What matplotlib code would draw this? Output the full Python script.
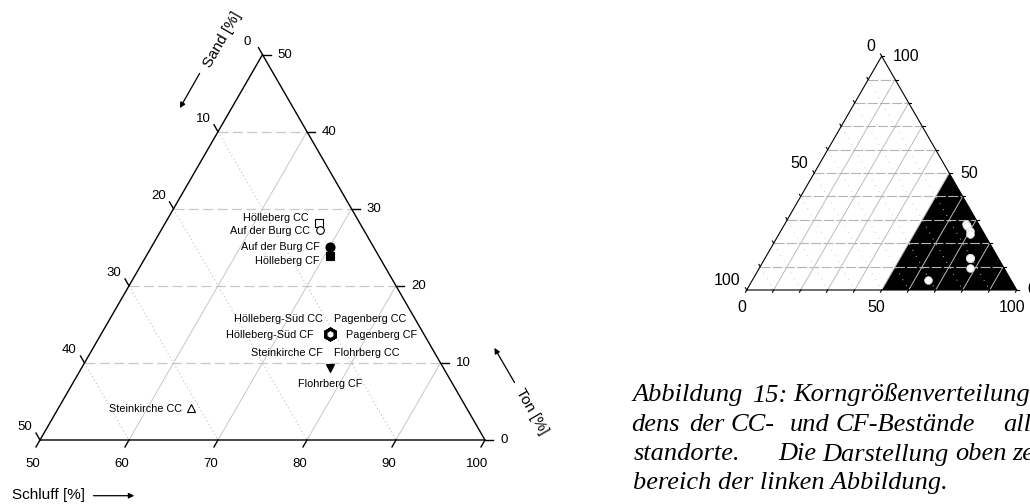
import numpy as np
import matplotlib
matplotlib.use('Agg')
import matplotlib.pyplot as plt
from matplotlib.patches import FancyArrowPatch

plt.rcParams['font.family'] = ['Liberation Sans', 'DejaVu Sans']

# ---------------- data ----------------
sites = ["Hölleberg CC", "Auf der Burg CC", "Auf der Burg CF", "Hölleberg CF",
         "Hölleberg-Süd CC", "Pagenberg CC", "Hölleberg-Süd CF", "Pagenberg CF",
         "Steinkirche CF", "Flohrberg CC", "Flohrberg CF", "Steinkirche CC"]
schluff = [67.3, 67.9, 70.0, 70.6, 75.7, 75.7, 75.7, 75.7, 75.7, 75.7, 77.9, 64.9]
ton = [28.2, 27.2, 25.1, 23.9, 13.7, 13.7, 13.7, 13.7, 13.7, 13.7, 9.3, 4.2]

markers = ['s', 'o', 'o', 's', 'h', 'h', 'h', 'h', 'h', 'h', 'v', '^']
filled = [False, False, True, True, False, False, False, False, False, False, True, False]
msizes = [5.5, 5.5, 6.5, 6.0, 7.5, 7.5, 7.5, 7.5, 7.5, 7.5, 6.0, 6.0]
medges = [0.8, 0.8, 0.8, 0.8, 2.3, 2.3, 2.3, 2.3, 2.3, 2.3, 0.8, 0.8]
# label offsets in pixels (dx, dy) and alignment
lab_off = [(-10.7, 4.4, 'right'), (-10.7, -1, 'right'), (-10, -0.7, 'right'),
           (-10, -5, 'right'), (-6.7, 15.7, 'right'), (4.3, 15.7, 'left'),
           (-15.7, -1, 'right'), (16, -1, 'left'), (-6.7, -18.3, 'right'),
           (4.3, -18.3, 'left'), (0, -15.3, 'center'), (-9, -1, 'right')]

zoom_ticks = [50, 60, 70, 80, 90, 100]       # Schluff ticks (left chart)
zoom_ticks_ton = [0, 10, 20, 30, 40, 50]     # Ton ticks
zoom_ticks_sand = [0, 10, 20, 30, 40, 50]    # Sand ticks
full_ticks = list(range(0, 101, 10))
full_labels = [0, 50, 100]

S3 = np.sqrt(3) / 2


def tern(S, T, base):
    span = 100.0 - base
    a = (np.asarray(S, float) - base) / span
    t = np.asarray(T, float) / span
    return a + t / 2, t * S3


fig = plt.figure(figsize=(10.3, 5.04), dpi=100)
H = 504

# ---------------- left (zoomed) triangle ----------------
ax1 = fig.add_axes([0, 0, 560 / 1030, 1])
ax1.set_xlim(-40 / 445, 520 / 445)
ax1.set_ylim(-64 / 445, 440 / 445)
ax1.axis('off')
B = 50
grid_c = '#c8c8c8'
for v in [10, 20, 30, 40]:
    x, y = tern([B, 100 - v], [v, v], B)
    ax1.plot(x, y, color=grid_c, lw=0.9, ls=(0, (8, 3.5)), zorder=1)
for v in [60, 70, 80, 90]:
    x, y = tern([v, v], [0, 100 - v], B)
    ax1.plot(x, y, color=grid_c, lw=0.7, zorder=1)
for v in [10, 20, 30, 40]:
    x, y = tern([B, 100 - v], [50 - v, 0], B)
    ax1.plot(x, y, color='#b0b0b0', lw=0.7, ls=(0, (1, 3)), zorder=1)
x, y = tern([B, 100, B, B], [0, 0, 50, 0], B)
ax1.plot(x, y, color='black', lw=1.0, zorder=3, solid_joinstyle='miter')
tl = 8 / 445
tfs = 9.5
for v in zoom_ticks:
    x, y = tern(v, 0, B)
    ax1.plot([x, x - 0.5 * tl], [y, y - S3 * tl], color='black', lw=1.0)
    ax1.annotate(str(v), (x, y), xytext=(-7.5, -24), textcoords='offset pixels',
                 ha='center', va='center', fontsize=tfs)
for v in zoom_ticks_ton:
    x, y = tern(100 - v, v, B)
    ax1.plot([x, x + tl], [y, y], color='black', lw=1.0)
    ax1.annotate(str(v), (x, y), xytext=(15, 0), textcoords='offset pixels',
                 ha='left', va='center', fontsize=tfs)
for v in zoom_ticks_sand:
    x, y = tern(B, 50 - v, B)
    ax1.plot([x, x - 0.5 * tl], [y, y + S3 * tl], color='black', lw=1.0)
    ax1.annotate(str(v), (x, y), xytext=(-15, 12.5), textcoords='offset pixels',
                 ha='center', va='center', fontsize=tfs)

px, py = tern(schluff, ton, B)
for i, name in enumerate(sites):
    ax1.plot(px[i], py[i], marker=markers[i], ms=msizes[i],
             mfc='black' if filled[i] else 'white', mec='black',
             mew=medges[i], ls='none', zorder=5)
    dx, dy, ha = lab_off[i]
    ax1.annotate(name, (px[i], py[i]), xytext=(dx, dy), textcoords='offset pixels',
                 ha=ha, va='center', fontsize=7.8, zorder=6)

# axis titles and arrows (figure pixels, origin bottom-left)
afs = 11
fig.text(11.7 / 1030, (H - 495.5) / H, 'Schluff [%]', fontsize=afs, ha='left', va='center')
fig.add_artist(FancyArrowPatch((90.7, H - 495.7), (137, H - 495.7), transform=None,
                               arrowstyle='-|>', mutation_scale=8, lw=0.9, color='black'))
fig.text(222.5 / 1030, (H - 40) / H, 'Sand [%]', fontsize=afs, ha='center', va='center',
         rotation=60, rotation_mode='anchor')
fig.add_artist(FancyArrowPatch((201, H - 71), (178.5, H - 110.5), transform=None,
                               arrowstyle='-|>', mutation_scale=8, lw=0.9, color='black'))
fig.text(531.7 / 1030, (H - 411.7) / H, 'Ton [%]', fontsize=afs, ha='center', va='center',
         rotation=-60, rotation_mode='anchor')
fig.add_artist(FancyArrowPatch((516, H - 385), (493, H - 345.5), transform=None,
                               arrowstyle='-|>', mutation_scale=8, lw=0.9, color='black'))

# ---------------- right (full) triangle ----------------
ax2 = fig.add_axes([600 / 1030, 164 / 504, 430 / 1030, 340 / 504])
ax2.set_xlim(-146.7 / 270, 283.3 / 270)
ax2.set_ylim(-50 / 270, 290 / 270)
ax2.axis('off')
F = 0
fx, fy = tern([50, 100, 50], [0, 0, 50], F)
ax2.fill(fx, fy, color='black', lw=0, zorder=1)
for v in range(10, 100, 10):
    x, y = tern([0, 100 - v], [v, v], F)
    ax2.plot(x, y, color='#b4b4b4', lw=0.8, ls=(0, (9, 2)), zorder=2)
    x, y = tern([v, v], [0, 100 - v], F)
    ax2.plot(x, y, color='#bcbcbc', lw=0.7, zorder=2)
    x, y = tern([0, 100 - v], [100 - v, 0], F)
    ax2.plot(x, y, color='#c8c8c8', lw=0.7, ls=(0, (1, 6)), zorder=2)
x, y = tern([0, 100, 0, 0], [0, 0, 100, 0], F)
ax2.plot(x, y, color='black', lw=0.8, zorder=3)
tl2 = 2.5 / 270
for v in full_ticks:
    x, y = tern(v, 0, F)
    ax2.plot([x, x - 0.5 * tl2], [y, y - S3 * tl2], color='black', lw=0.8)
    x, y = tern(100 - v, v, F)
    ax2.plot([x, x + tl2], [y, y], color='black', lw=0.8)
    x, y = tern(0, 100 - v, F)
    ax2.plot([x, x - 0.5 * tl2], [y, y + S3 * tl2], color='black', lw=0.8)
for v in full_labels:
    x, y = tern(v, 0, F)
    ax2.annotate(str(v), (x, y), xytext=(-5, -17), textcoords='offset pixels',
                 ha='center', va='center', fontsize=11.5)
    x, y = tern(100 - v, v, F)
    ax2.annotate(str(v), (x, y), xytext=(11, 0), textcoords='offset pixels',
                 ha='left', va='center', fontsize=11.5)
    x, y = tern(0, 100 - v, F)
    ax2.annotate(str(v), (x, y), xytext=(-6, 9.5), textcoords='offset pixels',
                 ha='right', va='center', fontsize=11.5)
qx, qy = tern(schluff, ton, F)
ax2.plot(qx, qy, 'o', ms=5.6, mfc='white', mec='#d0d0d0', mew=0.5, ls='none', zorder=5)

# ---------------- caption ----------------
cap_lines = [
    [("Abbildung", 632.7), ("15:", 752.0), ("Korngrößenverteilung", 790.0)],
    [("dens", 631.7), ("der", 689.3), ("CC-", 730.0), ("und", 790.0),
     ("CF-Bestände", 834.0), ("all", 1003.3)],
    [("standorte.", 633.3), ("Die", 778.3), ("Darstellung", 816.7), ("oben", 931.7),
     ("zei", 990.0)],
    [("bereich der linken Abbildung.", 633.0)],
]
cap_base = [401.5, 431.0, 460.5, 489.5]
renderer = fig.canvas.get_renderer()
for words, yb in zip(cap_lines, cap_base):
    prev_end = -1e9
    for w, xw in words:
        x0 = max(xw, prev_end + 6)
        t = fig.text(x0 / 1030, (H - yb) / H, w, fontsize=19, family='Liberation Serif',
                     style='italic', ha='left', va='baseline')
        prev_end = t.get_window_extent(renderer).x1

fig.savefig('out.png', dpi=100)
